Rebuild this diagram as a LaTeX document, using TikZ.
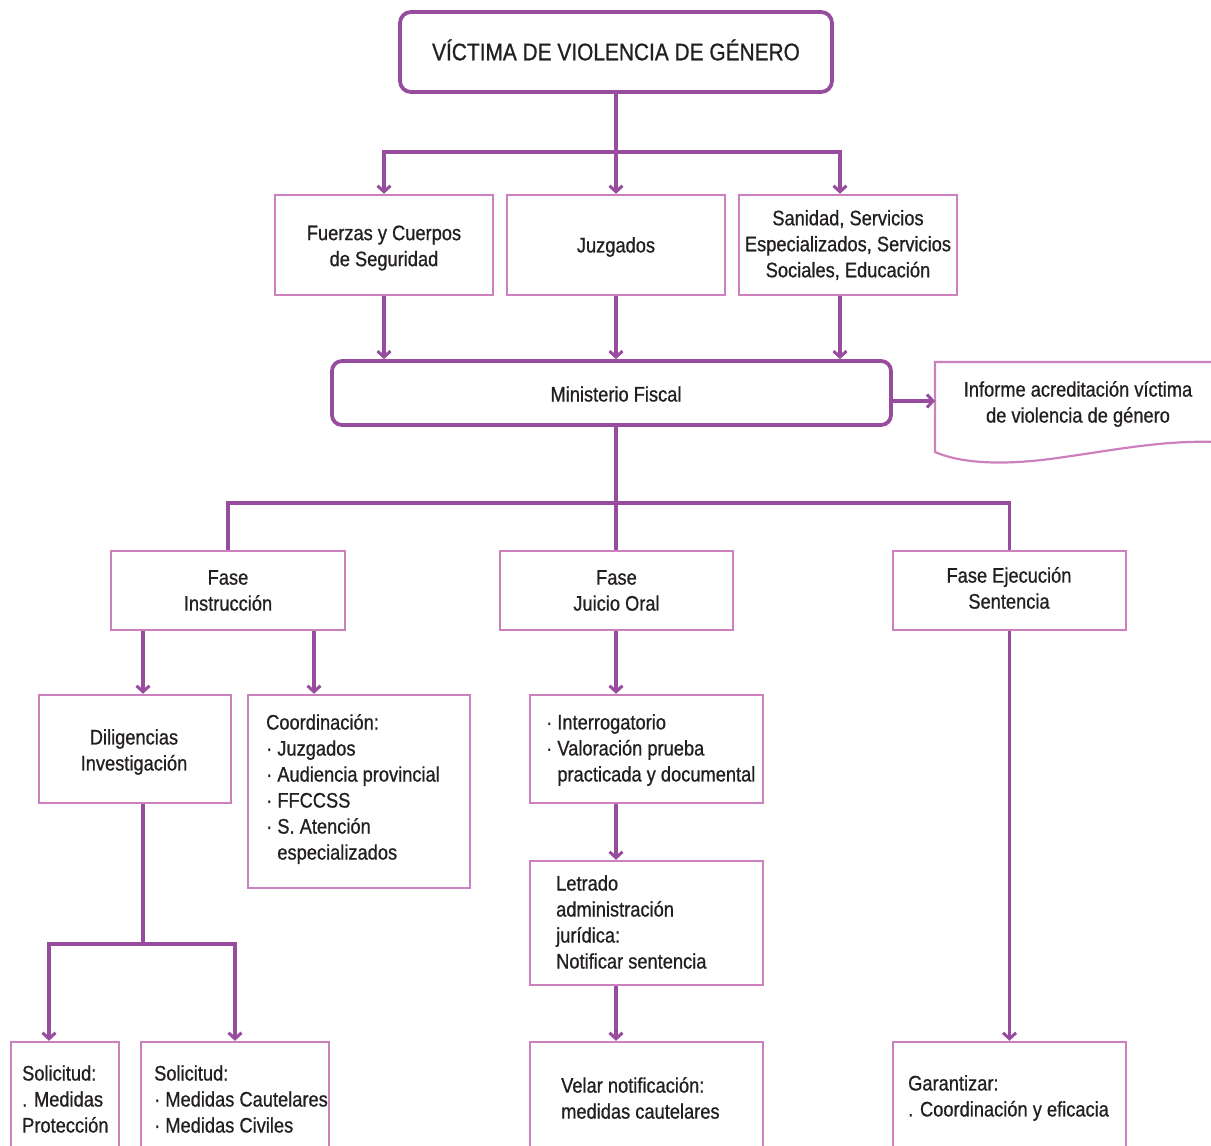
\documentclass[tikz,border=0pt]{standalone}
\usepackage{fontspec}
\setmainfont[FakeStretch=0.87,FakeBold=0.8]{Liberation Sans}
\usetikzlibrary{arrows.meta}
\definecolor{conn}{RGB}{152,76,158}
\definecolor{lbox}{RGB}{204,128,190}
\definecolor{txt}{RGB}{35,31,32}
\begin{document}
\begin{tikzpicture}[x=1pt,y=-1pt,
  every node/.style={font=\fontsize{21}{26}\selectfont, text=txt, inner sep=0pt},
  lbx/.style={draw=lbox, line width=2.4pt, align=center},
  rbx/.style={draw=conn, line width=3.8pt, rounded corners=11pt, align=center},
  cl/.style={draw=conn, line width=3.6pt},
  arr/.style={cl, -{Straight Barb[length=6pt,width=13pt,line width=3pt]}},
  lt/.style={anchor=west, align=left},
  ct/.style={align=center}]
\useasboundingbox (0,0) rectangle (1211,1146);
\clip (0,0) rectangle (1211,1146);

% helper x positions
\coordinate (x49) at (49,0);
\coordinate (x143) at (143,0);
\coordinate (x314) at (314,0);
\coordinate (x616) at (616,0);
\coordinate (x840) at (840,0);

% title
\node[rbx, minimum width=432, minimum height=80] (title) at (616,52) {};
\node[ct, font=\fontsize{24}{29}\selectfont] (titlet) at (616,50) {VÍCTIMA DE VIOLENCIA DE GÉNERO};

% row 2
\node[lbx, minimum width=218, minimum height=100] (f1) at (384,245) {};
\node[ct] (f1t) at (384,248) {Fuerzas y Cuerpos\\de Seguridad};
\node[lbx, minimum width=218, minimum height=100] (f2) at (616,245) {};
\node[ct] (f2t) at (616,247) {Juzgados};
\node[lbx, minimum width=218, minimum height=100] (f3) at (848,245) {Sanidad, Servicios\\Especializados, Servicios\\Sociales, Educación};

% Ministerio
\node[rbx, rounded corners=10pt, minimum width=559, minimum height=64] (mf) at (611.5,393) {};
\node[ct] (mft) at (616,394) {Ministerio Fiscal};

% document
\coordinate (docin) at (935,401);
\draw[draw=lbox, line width=2.2pt] (1216,362) -- (935,362) -- (935,452)
  .. controls (958,462) and (995,466) .. (1050,459)
  .. controls (1110,451) and (1160,440) .. (1216,442);
\node[ct] (doc) at (1078,404) {Informe acreditación víctima\\de violencia de género};

% fases
\node[lbx, minimum width=234, minimum height=79] (fi) at (228,590.5) {Fase\\Instrucción};
\node[lbx, minimum width=233, minimum height=79] (fj) at (616.5,590.5) {Fase\\Juicio Oral};
\node[lbx, minimum width=233, minimum height=79] (fe) at (1009.5,590.5) {};
\node[ct] (fet) at (1009,588) {Fase Ejecución\\Sentencia};

% level 4
\node[lbx, minimum width=192, minimum height=108] (dl) at (135,749) {};
\node[ct] (dlt) at (134,752) {Diligencias\\Investigación};
\node[lbx, minimum width=222, minimum height=193] (co) at (359,791.5) {};
\node[lt] (cot) at (266,789) {Coordinación:\\· Juzgados\\· Audiencia provincial\\· FFCCSS\\· S. Atención\\\phantom{· }especializados};

\node[lbx, minimum width=233, minimum height=108] (i1) at (646.5,749) {};
\node[lt] (i1t) at (546,750) {· Interrogatorio\\· Valoración prueba\\\phantom{· }practicada y documental};
\node[lbx, minimum width=233, minimum height=124] (i2) at (646.5,923) {};
\node[lt] (i2t) at (556,922) {Letrado\\administración\\jurídica:\\Notificar sentencia};

% bottom row
\node[lbx, minimum width=108, minimum height=112] (s1) at (65,1098) {};
\node[lt] (s1t) at (22,1099) {Solicitud:\\. Medidas\\Protección};
\node[lbx, minimum width=188, minimum height=112] (s2) at (235,1098) {};
\node[lt] (s2t) at (154,1099) {Solicitud:\\· Medidas Cautelares\\· Medidas Civiles};
\node[lbx, minimum width=233, minimum height=112] (i3) at (646.5,1098) {};
\node[lt] (i3t) at (561,1098) {Velar notificación:\\medidas cautelares};
\node[lbx, minimum width=233, minimum height=112] (ga) at (1009.5,1098) {};
\node[lt] (gat) at (908,1098) {Garantizar:\\. Coordinación y eficacia};

% connectors: title -> row 2
\draw[cl] (title.south) -- (616,152) coordinate (j1);
\draw[arr] (j1) -| (f1.north);
\draw[arr] (j1) -- (f2.north);
\draw[arr] (j1) -| (f3.north -| x840);
% row 2 -> Ministerio
\draw[arr] (f1.south) -- (f1.south |- mf.north);
\draw[arr] (f2.south) -- (f2.south |- mf.north);
\draw[arr] (f3.south -| x840) -- (mf.north -| x840);
% Ministerio -> informe
\draw[arr] ([yshift=-8pt]mf.east) -- (docin);
% Ministerio -> fases
\draw[cl] (mf.south -| x616) -- (616,503) coordinate (j2);
\draw[cl] (j2) -| (fi.north);
\draw[cl] (j2) -- (fj.north -| x616);
\draw[cl] (j2) -| (fe.north);
% Instruccion
\draw[arr] (fi.south -| x143) -- (dl.north -| x143);
\draw[arr] (fi.south -| x314) -- (co.north -| x314);
\draw[cl] (dl.south -| x143) -- (143,944) coordinate (j3);
\draw[arr] (j3) -| (s1.north -| x49);
\draw[arr] (j3) -| (s2.north);
% Juicio oral
\draw[arr] (fj.south -| x616) -- (i1.north -| x616);
\draw[arr] (i1.south -| x616) -- (i2.north -| x616);
\draw[arr] (i2.south -| x616) -- (i3.north -| x616);
% Ejecucion
\draw[arr] (fe.south) -- (ga.north);
\end{tikzpicture}
\end{document}
